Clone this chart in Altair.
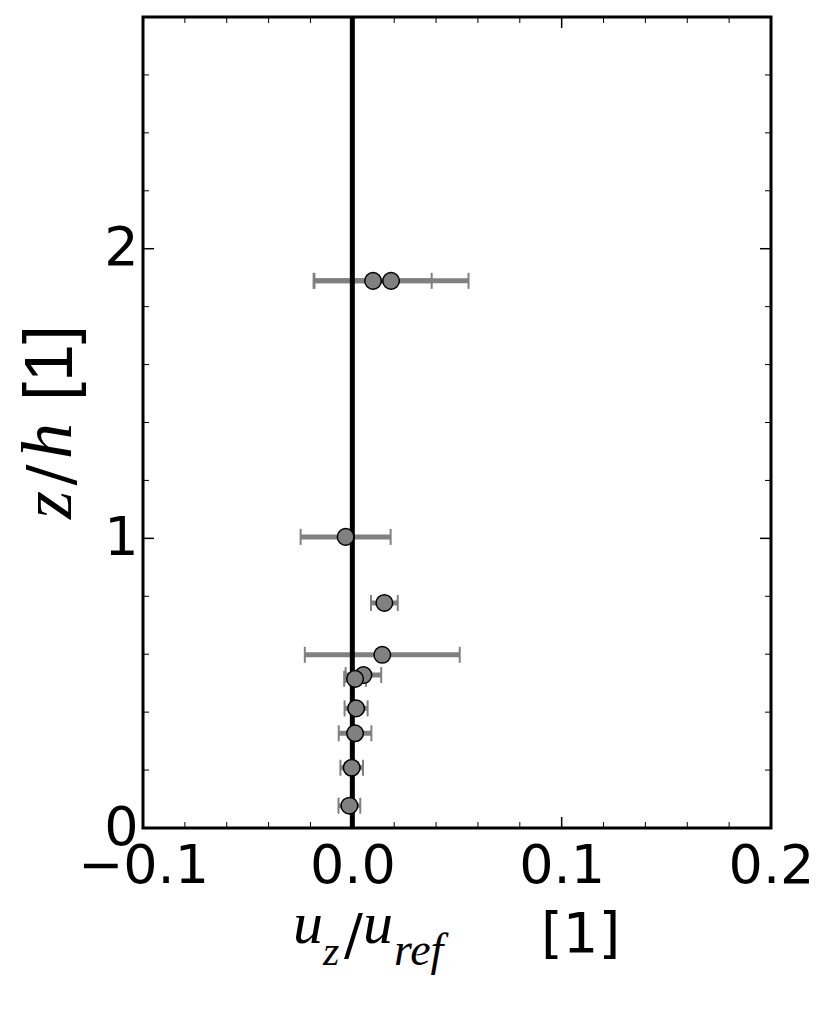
import altair as alt
import pandas as pd

# ---- data ----
z_vals = [1.889, 1.889, 1.005, 0.777, 0.598, 0.528, 0.515, 0.413, 0.327, 0.208, 0.077]
ux_vals = [0.0099, 0.0185, -0.0032, 0.0153, 0.0143, 0.0053, 0.0013, 0.0018, 0.0013, -0.0003, -0.0014]
err_vals = [0.028, 0.037, 0.0215, 0.0064, 0.037, 0.0085, 0.0052, 0.0055, 0.0078, 0.0054, 0.0052]

x_major = [-0.1, 0.0, 0.1, 0.2]
x_minor = [-0.08, -0.06, -0.04, -0.02, 0.02, 0.04, 0.06, 0.08, 0.12, 0.14, 0.16, 0.18]
y_major = [0, 1, 2]
y_minor = [0.2, 0.4, 0.6, 0.8, 1.2, 1.4, 1.6, 1.8, 2.2, 2.4, 2.6]
zero_line = [0.0]

x_title_parts = ["u", "z", "/", "u", "ref", "[1]"]
y_title_parts = ["z", "/", "h", "[1]"]

W, H = 628, 811
GRAY = "#808080"

pts = pd.DataFrame({"z": z_vals, "x": ux_vals, "err": err_vals})
pts["lo"] = pts["x"] - pts["err"]
pts["hi"] = pts["x"] + pts["err"]

xs = alt.Scale(domain=[-0.1, 0.2], nice=False, zero=False)
ys = alt.Scale(domain=[0, 2.8], nice=False, zero=False)
xaxis = alt.Axis(values=x_major, format=".1f", ticks=False, tickSize=0, domain=False, grid=False,
                 labelFont="DejaVu Sans", labelFontSize=54, labelPadding=11, labelColor="black",
                 title=None, labelFlush=False, labelOverlap=False)
yaxis = alt.Axis(values=y_major, format="d", ticks=False, tickSize=0, domain=False, grid=False,
                 labelFont="DejaVu Sans", labelFontSize=54, labelPadding=5, labelColor="black",
                 title=None, labelOverlap=False, labelFlush=False)

X = lambda f: alt.X(f"{f}:Q", scale=xs, axis=xaxis)
Y = lambda f: alt.Y(f"{f}:Q", scale=ys, axis=yaxis)

bars = alt.Chart(pts).mark_rule(color=GRAY, strokeWidth=5).encode(x=X("lo"), x2="hi:Q", y=Y("z"))
caps = alt.Chart(pts).transform_fold(["lo", "hi"], as_=["side", "cx"]).mark_tick(
    orient="vertical", color=GRAY, size=16, thickness=2, opacity=1).encode(x=X("cx"), y=Y("z"))
zline = alt.Chart(pd.DataFrame({"x": zero_line})).mark_rule(color="black", strokeWidth=5).encode(x=X("x"))
points = alt.Chart(pts).mark_circle(color=GRAY, stroke="black", strokeWidth=1.5, size=275, opacity=1).encode(
    x=X("x"), y=Y("z"))

def xticks(vals, ln, sw):
    d = pd.DataFrame({"x": vals})
    b = alt.Chart(d).mark_rule(color="black", strokeWidth=sw).encode(x=X("x"), y=alt.value(H), y2=alt.value(H - ln))
    t = alt.Chart(d).mark_rule(color="black", strokeWidth=sw).encode(x=X("x"), y=alt.value(0), y2=alt.value(ln))
    return [b, t]

def yticks(vals, ln, sw):
    d = pd.DataFrame({"y": vals})
    l = alt.Chart(d).mark_rule(color="black", strokeWidth=sw).encode(y=Y("y"), x=alt.value(0), x2=alt.value(ln))
    r = alt.Chart(d).mark_rule(color="black", strokeWidth=sw).encode(y=Y("y"), x=alt.value(W), x2=alt.value(W - ln))
    return [l, r]

tick_layers = xticks(x_major, 11, 1.5) + xticks(x_minor, 6, 1) + yticks(y_major, 11, 1.5) + yticks(y_minor, 6, 1)

def label(txt, x, y, font, size, italic=False, angle=0, align="left"):
    return alt.Chart(pd.DataFrame({"t": [txt]})).mark_text(
        font=font, fontSize=size, fontStyle="italic" if italic else "normal", angle=angle,
        align=align, baseline="alphabetic", color="black").encode(
        x=alt.value(x), y=alt.value(y), text="t:N")

serif = "Liberation Serif"
titles = [
    label(x_title_parts[0], 150, 926, serif, 60, True),
    label(x_title_parts[1], 180, 948, serif, 42, True),
    label(x_title_parts[2], 201, 937, "DejaVu Serif", 56),
    label(x_title_parts[3], 220, 926, serif, 60, True),
    label(x_title_parts[4], 251, 948, serif, 46, True),
    label(x_title_parts[5], 398, 935, "DejaVu Sans", 56),
    label(y_title_parts[0], -72, 488, serif, 72, True, angle=270, align="center"),
    label(y_title_parts[1], -72, 458, "DejaVu Serif", 62, False, angle=270, align="center"),
    label(y_title_parts[2], -72, 424, serif, 72, True, angle=270, align="center"),
    label(y_title_parts[3], -71, 346, "Liberation Sans", 68, False, angle=270, align="center"),
]

chart = alt.layer(bars, caps, zline, points, *tick_layers, *titles).properties(
    width=W, height=H,
    autosize=alt.AutoSizeParams(type="none"),
    padding={"left": 135, "top": 9, "right": 51, "bottom": 175},
    background="white",
).configure_view(stroke="black", strokeWidth=3)

chart.save("out.html", embed_options={"renderer": "svg", "actions": False})
